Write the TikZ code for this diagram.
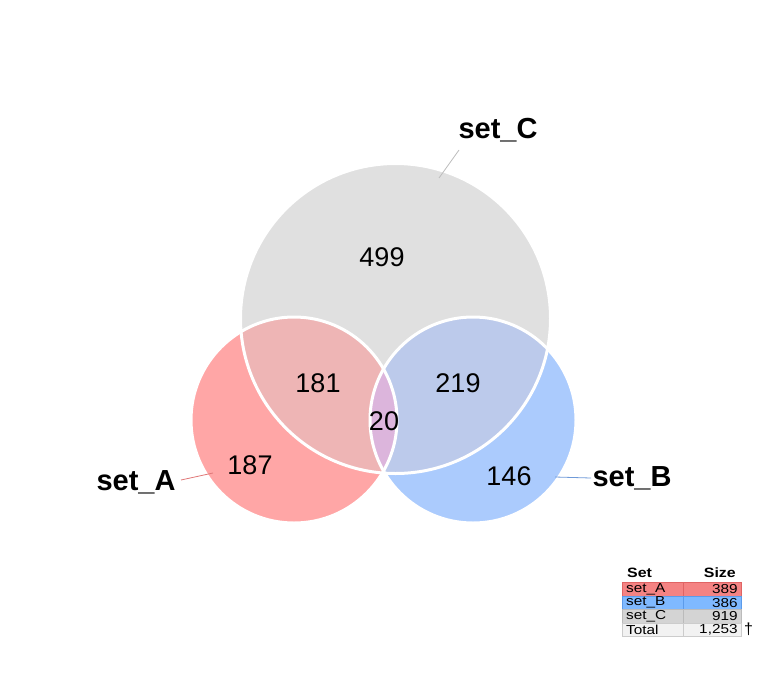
\documentclass[tikz,border=0pt]{standalone}
\usepackage{fontspec}
\usepackage{graphicx}
\setmainfont{Liberation Sans}
\definecolor{aOnly}{HTML}{FFA6A6}
\definecolor{bOnly}{HTML}{ABCBFD}
\definecolor{cOnly}{HTML}{E0E0E0}
\definecolor{acCol}{HTML}{EEB5B5}
\definecolor{bcCol}{HTML}{BCCAEB}
\definecolor{abcCol}{HTML}{DCB5DC}
\definecolor{lineA}{HTML}{E07878}
\definecolor{lineB}{HTML}{6F9AD8}
\definecolor{lineC}{HTML}{BDBDBD}
\definecolor{tabA}{HTML}{F48383}
\definecolor{tabAb}{HTML}{E06464}
\definecolor{tabB}{HTML}{7FB9FF}
\definecolor{tabBb}{HTML}{5C9BEA}
\definecolor{tabC}{HTML}{D4D4D4}
\definecolor{tabCb}{HTML}{BBBBBB}
\definecolor{tabT}{HTML}{F2F2F2}
\definecolor{tabTb}{HTML}{CCCCCC}
\newcommand{\wide}[1]{\scalebox{1.18}[1]{#1}}
\begin{document}
\begin{tikzpicture}[x=1pt,y=-1pt,
  outline/.style={draw=white,line width=3pt},
  count/.style={font=\fontsize{27}{30}\selectfont,inner sep=0pt},
  setlabel/.style={font=\fontsize{29}{32}\selectfont\bfseries,inner sep=2pt},
  cell/.style={draw,line width=0.8pt,inner sep=0pt,anchor=north west,minimum height=13.5pt},
  lcell/.style={cell,minimum width=61pt},
  rcell/.style={cell,minimum width=58pt},
  ctext/.style={font=\fontsize{13}{14}\selectfont,inner sep=0pt},
  head/.style={font=\fontsize{13.5}{15}\selectfont\bfseries,inner sep=0pt}]
\useasboundingbox (0,0) rectangle (768,672);
\coordinate (cA) at (294,420);
\coordinate (cB) at (473,420);
\coordinate (cC) at (395.5,318.5);
% regions
\fill[cOnly] (cC) circle[radius=155];
\fill[aOnly] (cA) circle[radius=103];
\fill[bOnly] (cB) circle[radius=103];
\begin{scope}
  \clip (cC) circle[radius=155];
  \fill[acCol] (cA) circle[radius=103];
  \fill[bcCol] (cB) circle[radius=103];
  \clip (cA) circle[radius=103];
  \fill[abcCol] (cB) circle[radius=103];
\end{scope}
\draw[outline] (cC) circle[radius=155];
\draw[outline] (cA) circle[radius=103];
\draw[outline] (cB) circle[radius=103];
% counts
\node[count] (n499) at (382,257) {499};
\node[count] (n181) at (318,383) {181};
\node[count] (n219) at (458,383) {219};
\node[count] (n20) at (384,421) {20};
\node[count] (n187) at (250,465) {187};
\node[count] (n146) at (509,476) {146};
% set labels
\node[setlabel] (labC) at (498,130) {set\_C};
\node[setlabel] (labA) at (136,482) {set\_A};
\node[setlabel] (labB) at (632,478) {set\_B};
\coordinate (sC) at (459,150);
\coordinate (pC) at (439,178);
\coordinate (sA) at (181,480);
\coordinate (pA) at (213,473);
\coordinate (sB) at (591,478);
\coordinate (pB) at (555,477);
\draw[lineC,line width=0.8pt] (sC) -- (pC);
\draw[lineA,line width=0.8pt] (sA) -- (pA);
\draw[lineB,line width=0.8pt] (sB) -- (pB);
% table
\node[head,anchor=base west] (hSet) at (627,577) {\wide{Set}};
\node[head,anchor=base east] (hSize) at (736,577) {\wide{Size}};
\node[lcell,draw=tabAb,fill=tabA] (a1) at (622,582) {};
\node[rcell,draw=tabAb,fill=tabA] (a2) at (683,582) {};
\node[lcell,draw=tabBb,fill=tabB] (b1) at (622,595.5) {};
\node[rcell,draw=tabBb,fill=tabB] (b2) at (683,595.5) {};
\node[lcell,draw=tabCb,fill=tabC] (c1) at (622,609) {};
\node[rcell,draw=tabCb,fill=tabC] (c2) at (683,609) {};
\node[lcell,draw=tabTb,fill=tabT] (t1) at (622,622.5) {};
\node[rcell,draw=tabTb,fill=tabT] (t2) at (683,622.5) {};
\node[ctext,anchor=west] (a1t) at ([xshift=4pt]a1.west) {\wide{set\_A}};
\node[ctext,anchor=east] (a2t) at ([xshift=-4pt]a2.east) {\wide{389}};
\node[ctext,anchor=west] (b1t) at ([xshift=4pt]b1.west) {\wide{set\_B}};
\node[ctext,anchor=east] (b2t) at ([xshift=-4pt]b2.east) {\wide{386}};
\node[ctext,anchor=west] (c1t) at ([xshift=4pt]c1.west) {\wide{set\_C}};
\node[ctext,anchor=east] (c2t) at ([xshift=-4pt]c2.east) {\wide{919}};
\node[ctext,anchor=west] (t1t) at ([xshift=4pt]t1.west) {\wide{Total}};
\node[ctext,anchor=east] (t2t) at ([xshift=-4pt]t2.east) {\wide{1,253}};
\node[font=\fontsize{16}{18}\selectfont,inner sep=0pt,anchor=west] (dag) at ([xshift=2pt]t2.east) {†};
\end{tikzpicture}
\end{document}
